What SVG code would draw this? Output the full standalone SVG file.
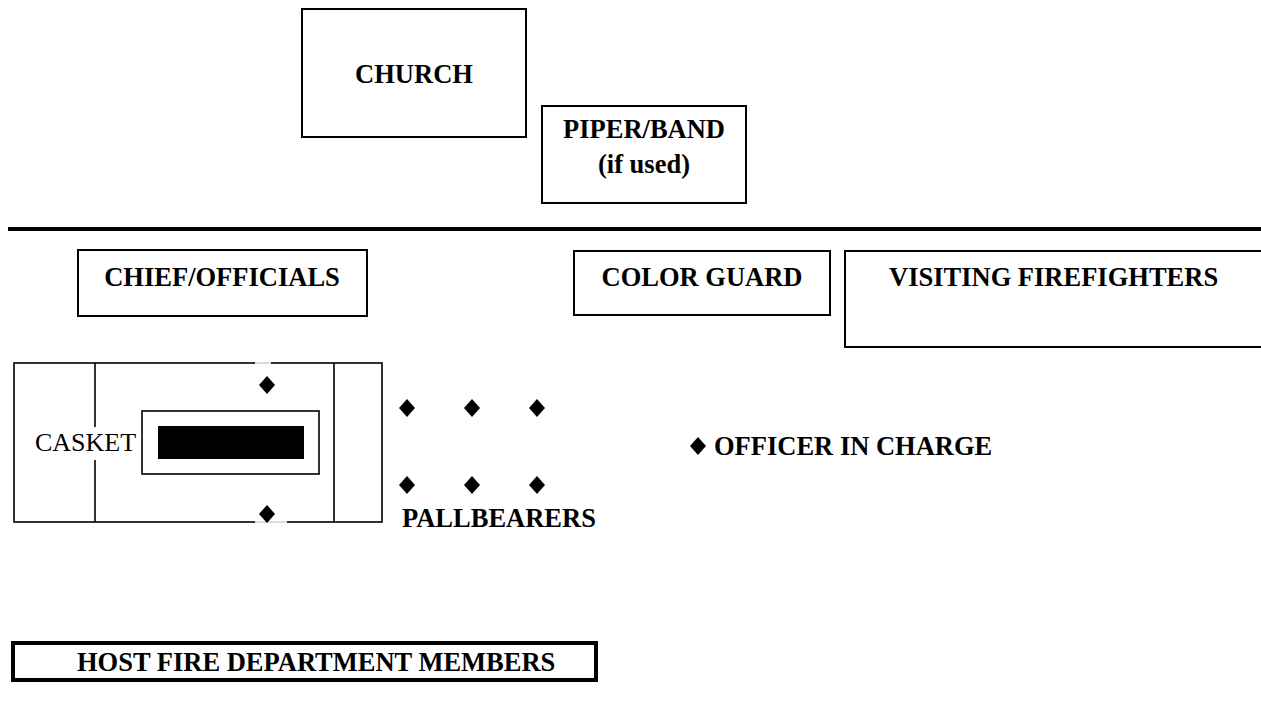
<svg xmlns="http://www.w3.org/2000/svg" width="1261" height="717" viewBox="0 0 1261 717">
<style>
.box{fill:#fff;stroke:#000;stroke-width:2}
.thick{fill:#fff;stroke:#000;stroke-width:4}
.lbl{font-family:"Liberation Serif","Times New Roman",serif;font-weight:bold;font-size:26.5px;fill:#000}
.reg{font-family:"Liberation Serif","Times New Roman",serif;font-size:26px;fill:#000}
.ln{stroke:#000;stroke-width:1.6;fill:none}
</style>
<defs>
<polygon id="dia" points="0,-9 8,0 0,9 -8,0" fill="#000"/>
</defs>
<rect width="1261" height="717" fill="#fff"/>

<g id="church">
<rect class="box" x="302" y="9" width="224" height="128"/>
<text class="lbl" x="414" y="83" text-anchor="middle">CHURCH</text>
</g>

<g id="piper">
<rect class="box" x="542" y="106" width="204" height="97"/>
<text class="lbl" x="644" y="138" text-anchor="middle">PIPER/BAND</text>
<text class="lbl" x="644" y="173" text-anchor="middle">(if used)</text>
</g>

<g id="divider">
<line x1="8" y1="229" x2="1261" y2="229" stroke="#000" stroke-width="4"/>
</g>

<g id="chief">
<rect class="box" x="78" y="250" width="289" height="66"/>
<text class="lbl" x="222" y="286" text-anchor="middle">CHIEF/OFFICIALS</text>
</g>

<g id="colorguard">
<rect class="box" x="574" y="251" width="256" height="64"/>
<text class="lbl" x="702" y="286" text-anchor="middle">COLOR GUARD</text>
</g>

<g id="visiting">
<rect class="box" x="845" y="251" width="430" height="96"/>
<text class="lbl" x="889" y="286">VISITING FIREFIGHTERS</text>
</g>

<g id="casket-area">
<rect class="ln" x="14" y="363" width="368" height="159" fill="#fff"/>
<line class="ln" x1="95" y1="363" x2="95" y2="522"/>
<line class="ln" x1="334" y1="363" x2="334" y2="522"/>
<line x1="255" y1="363" x2="271" y2="363" stroke="#ddd" stroke-width="2"/>
<line x1="255" y1="522" x2="287" y2="522" stroke="#ddd" stroke-width="2"/>
<rect x="142" y="411" width="177" height="63" class="ln" fill="#fff"/>
<rect x="158" y="426" width="146" height="33" fill="#000"/>
<rect x="33" y="427" width="106" height="33" fill="#fff"/>
<text class="reg" x="35" y="451">CASKET</text>
<use href="#dia" x="267" y="385"/>
<use href="#dia" x="267" y="514"/>
</g>

<g id="pallbearers">
<use href="#dia" x="407" y="408"/>
<use href="#dia" x="472" y="408"/>
<use href="#dia" x="537" y="408"/>
<use href="#dia" x="407" y="485"/>
<use href="#dia" x="472" y="485"/>
<use href="#dia" x="537" y="485"/>
<text class="lbl" x="402" y="527">PALLBEARERS</text>
</g>

<g id="officer">
<use href="#dia" x="698" y="446"/>
<text class="lbl" x="714" y="455">OFFICER IN CHARGE</text>
</g>

<g id="host">
<rect class="thick" x="13" y="643" width="583" height="37"/>
<text class="lbl" x="77" y="671">HOST FIRE DEPARTMENT MEMBERS</text>
</g>

<g id="connectors"></g>
</svg>
